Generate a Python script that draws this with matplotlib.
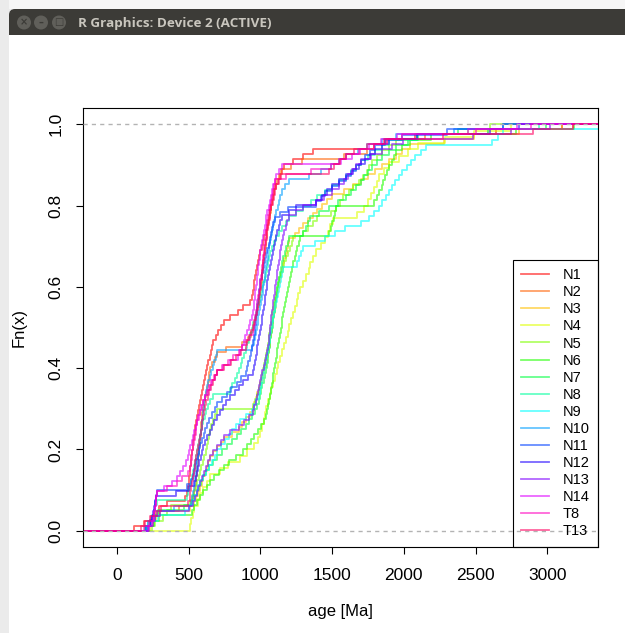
import numpy as np
import matplotlib
matplotlib.use("Agg")
import matplotlib.pyplot as plt
from matplotlib.colors import hsv_to_rgb
from matplotlib.patches import FancyBboxPatch, Rectangle, Circle

plt.rcParams['font.family'] = ['Liberation Sans', 'DejaVu Sans']

# detrital zircon ages [Ma] per sample
N1 = [120, 185, 240, 262, 296, 350, 471, 488, 494, 499, 503, 506, 509,
      515, 519, 524, 528, 533, 538, 542, 547, 553, 558,
      566, 572, 579, 586, 592, 598, 606, 613,
      622, 630, 638, 646, 655, 662, 669,
      688, 705, 726, 748, 790, 845, 880, 926,
      938, 945, 952, 958, 964, 970, 977, 984, 991, 998,
      1008, 1017, 1027, 1038, 1048,
      1055, 1062, 1069, 1076, 1083, 1090, 1098,
      1110, 1124, 1138, 1152, 1166, 1230, 1300, 1365,
      1795, 1870, 2080, 2640, 3100]
N2 = [205, 228, 262, 290, 430,
      515, 528, 536, 543, 549, 553, 557, 560,
      564, 567, 571, 574, 577, 580, 583, 586, 589, 592, 595, 599,
      606, 612, 619, 626, 633, 639, 645, 650,
      664, 681, 698, 760, 870, 915, 932, 948,
      958, 964, 970, 976, 982, 988, 994, 999,
      1004, 1008, 1012, 1016, 1020, 1024, 1028, 1032, 1036, 1040, 1045, 1049,
      1055, 1060, 1066, 1071, 1077, 1083, 1088, 1094, 1099,
      1112, 1128, 1146, 1210, 1290, 1580,
      1740, 1795, 1880, 2150, 2590, 3180]
N3 = [232, 249, 270, 298, 510,
      535, 551, 566, 579,
      590, 602, 614, 626, 638, 649,
      672, 698, 724, 749, 800, 849,
      875, 900, 925, 949,
      958, 968, 978, 988, 998, 1008, 1018, 1028, 1039, 1049,
      1054, 1059, 1064, 1069, 1074, 1079, 1084, 1089, 1094, 1099,
      1106, 1112, 1118, 1124, 1131, 1137, 1143, 1149,
      1158, 1166, 1175, 1183, 1191, 1199,
      1240, 1270, 1299, 1335, 1370, 1398, 1430, 1465, 1498,
      1580, 1648, 1700, 1750, 1798, 1850, 1900, 1948,
      1990, 2045, 2280, 2490, 2800, 3100]
N4 = [511, 515, 528, 539, 562, 579, 598, 625, 648,
      718, 776, 858, 910, 958, 980, 999,
      1012, 1022, 1031, 1039, 1052, 1064, 1077, 1089,
      1102, 1114, 1126, 1138, 1149, 1162, 1176, 1189,
      1202, 1215, 1228, 1239, 1252, 1264, 1274,
      1300, 1320, 1336, 1349, 1370, 1389, 1420, 1449,
      1470, 1488, 1504, 1675, 1720, 1748,
      1770, 1790, 1810, 1829, 1865, 1898, 1968,
      2030, 2098, 2290, 2490, 2745]
N5 = [245, 268, 318, 352, 378, 512, 526, 539,
      549, 559, 569, 579, 588, 598, 609, 619,
      627, 635, 643, 651, 659, 672, 686, 699, 945,
      962, 975, 987, 999, 1006, 1013, 1020, 1027, 1034, 1040,
      1046, 1051, 1057, 1063, 1068, 1074, 1079, 1084, 1090,
      1097, 1104, 1111, 1118, 1124, 1130,
      1142, 1155, 1167, 1179, 1192, 1204, 1217, 1229,
      1298, 1335, 1370, 1398, 1495, 1530, 1555, 1578,
      1615, 1648, 1685, 1718, 1740, 1760, 1779,
      1815, 1848, 1900, 1948, 2095, 2450, 2600]
N6 = [198, 255, 296, 522, 538, 558, 579, 598,
      625, 652, 679, 712, 745, 778, 830, 878,
      905, 932, 958, 980, 1005, 1028,
      1037, 1044, 1051, 1058, 1065, 1072, 1079,
      1085, 1090, 1096, 1101, 1107, 1113, 1118, 1124, 1129,
      1136, 1142, 1148, 1154, 1161, 1167, 1173, 1179,
      1186, 1193, 1200, 1207, 1214, 1221, 1228,
      1238, 1248, 1258, 1268, 1278, 1475,
      1490, 1500, 1510, 1520, 1529, 1795,
      1815, 1830, 1845, 1858, 1872, 1886, 1899,
      1915, 1932, 1948, 1990, 2045, 2190, 2780, 3190]
N7 = [210, 228, 262, 288, 470, 520, 540, 559,
      574, 588, 603, 618, 645, 672, 699, 735, 768, 799,
      835, 868, 899, 920, 940, 960, 979,
      988, 996, 1005, 1014, 1022, 1031, 1039,
      1045, 1050, 1055, 1060, 1065, 1070, 1075, 1079,
      1085, 1090, 1095, 1100, 1105, 1110, 1115, 1119,
      1126, 1132, 1139, 1146, 1153, 1159,
      1170, 1180, 1190, 1199, 1295, 1318, 1334, 1349,
      1410, 1478, 1540, 1598, 1635, 1668, 1699,
      1725, 1752, 1779, 1815, 1848, 1900, 1948,
      2030, 2098, 2380, 2990]
N8 = [200, 219, 245, 258, 268, 279, 485, 498, 509, 519,
      526, 532, 538, 544, 550, 557, 563, 569,
      578, 586, 595, 603, 611, 619, 635, 652, 669, 788,
      805, 820, 835, 849, 862, 874, 886, 897, 908, 919,
      930, 940, 950, 960, 970, 979,
      988, 996, 1004, 1013, 1021, 1029,
      1037, 1045, 1053, 1062, 1070, 1079,
      1095, 1112, 1129, 1150, 1175, 1199,
      1250, 1299, 1350, 1398, 1450, 1498, 1550, 1598,
      1635, 1668, 1699, 1750, 1798, 1850, 1898,
      2095, 2590, 2945]
N9 = [208, 229, 286, 475, 505, 528, 542, 555, 567, 579,
      598, 619, 639, 660, 680, 699, 725, 752, 779,
      805, 832, 859, 900, 939, 955, 972, 989,
      997, 1004, 1011, 1018, 1025, 1032, 1039,
      1046, 1052, 1058, 1064, 1070, 1076, 1083, 1089,
      1096, 1102, 1108, 1115, 1122, 1129,
      1136, 1143, 1150, 1158, 1255, 1270, 1285, 1299,
      1378, 1448, 1520, 1588, 1698, 1760, 1795, 1828,
      1850, 1875, 1898, 1918, 1940, 1965, 1988,
      2020, 2050, 2078, 2120, 2158, 2615, 2660, 2695, 3420]
N10 = [196, 218, 245, 279, 395, 518,
       526, 531, 536, 541, 546, 551, 556, 561, 566, 570,
       574, 578, 582, 586, 590, 594, 598, 602, 606, 610, 615, 619,
       628, 638, 648, 658, 668, 679, 689, 699, 940,
       956, 962, 968, 974, 980, 986, 992, 999,
       1005, 1010, 1015, 1020, 1025, 1030, 1035, 1040, 1045, 1050,
       1056, 1062, 1068, 1074, 1080, 1086, 1093, 1099,
       1110, 1120, 1130, 1140, 1149, 1170, 1198, 1340,
       1420, 1495, 1545, 1598, 1680, 1745, 1850, 1945, 2350, 2690]
N11 = [205, 229, 250, 256, 262, 267, 273, 279, 490, 518,
       528, 537, 546, 554, 562, 569,
       580, 592, 605, 617, 628, 639, 660, 680, 699,
       735, 768, 798, 835, 868, 899,
       908, 916, 924, 932, 939, 946, 953, 959,
       963, 967, 971, 975, 979, 983, 987, 991, 995, 999,
       1008, 1016, 1024, 1033, 1041, 1049,
       1057, 1065, 1073, 1082, 1090, 1099,
       1140, 1195, 1385, 1420, 1448, 1500, 1550, 1598,
       1635, 1668, 1699, 1730, 1765, 1798, 1870, 1990, 2300, 2690]
N12 = [215, 238, 246, 252, 258, 263, 269, 410, 505, 537,
       548, 556, 565, 574, 583, 591, 599,
       614, 630, 646, 662, 679, 700, 720, 740, 759,
       790, 820, 849, 880, 915, 948,
       955, 961, 967, 973, 979, 985, 992, 999,
       1004, 1009, 1014, 1019, 1024, 1029, 1034, 1039, 1044, 1049,
       1056, 1062, 1068, 1074, 1081, 1087, 1093, 1099,
       1109, 1119, 1129, 1139, 1149, 1200, 1248, 1390,
       1430, 1465, 1498, 1550, 1600, 1648,
       1690, 1730, 1765, 1798, 1850, 1898, 2090, 2600, 2800]
N13 = [226, 249, 268, 297, 505, 532, 544, 556, 568, 579,
       592, 606, 620, 635, 649, 672, 698, 722, 748,
       790, 848, 885, 918, 949,
       958, 966, 974, 982, 990, 998, 1006, 1014, 1022, 1030, 1039, 1048,
       1053, 1057, 1061, 1065, 1069, 1073, 1077, 1081, 1085, 1090, 1095, 1099,
       1104, 1109, 1114, 1119, 1124, 1129, 1134, 1139, 1144, 1149,
       1158, 1168, 1178, 1188, 1198, 1250, 1298, 1390,
       1440, 1500, 1548, 1580, 1610, 1640, 1670, 1699,
       1770, 1848, 1920, 1995, 2480, 2750, 3020]
N14 = [215, 246, 256, 261, 266, 270, 274, 279, 330, 385,
       415, 440, 458, 478, 492, 503, 512, 521, 530, 538,
       548, 557, 566, 576, 587, 598, 615, 632, 648, 664, 681, 698,
       740, 790, 845, 860, 872, 884, 896, 907, 918, 928, 939, 948,
       953, 957, 961, 965, 969, 973, 977, 981, 985, 989, 994, 999,
       1006, 1012, 1018, 1024, 1030, 1036, 1042, 1049,
       1057, 1065, 1073, 1082, 1090, 1099,
       1112, 1130, 1148, 1560, 1640, 1695, 1760, 1840, 1950, 2450, 2790]
T8 = [190, 226, 248, 258, 264, 270, 275, 280, 350, 418, 452, 497,
      508, 514, 520, 526, 532, 538, 543, 549, 554, 559,
      570, 581, 592, 603, 615, 627, 639, 658, 679, 698,
      735, 772, 810, 848, 875, 902, 926, 948,
      954, 959, 964, 969, 974, 979, 984, 989, 994, 999,
      1004, 1008, 1012, 1016, 1020, 1024, 1028, 1032, 1036, 1040, 1044, 1047, 1050,
      1057, 1064, 1071, 1078, 1085, 1092, 1099,
      1180, 1350, 1490, 1545, 1595, 1690, 1790, 1880, 1990, 2500, 2890]
T13 = [170, 198, 232, 276, 310, 495,
       506, 512, 518, 523, 529, 535, 541, 547, 553, 559,
       566, 572, 578, 584, 590, 596, 602, 608, 614, 619,
       632, 644, 657, 670, 684, 698, 745, 795, 830, 865, 898,
       910, 922, 934, 946, 957, 968, 979,
       985, 989, 993, 997, 1001, 1005, 1009, 1013, 1017, 1021, 1025, 1029,
       1034, 1039, 1044, 1049, 1054, 1059, 1064, 1069,
       1077, 1085, 1093, 1101, 1109, 1128, 1147,
       1480, 1515, 1555, 1595, 1650, 1745, 1860, 2270, 2900, 3180]

samples = ["N1", "N2", "N3", "N4", "N5", "N6", "N7", "N8", "N9", "N10",
           "N11", "N12", "N13", "N14", "T8", "T13"]
ages = [N1, N2, N3, N4, N5, N6, N7, N8, N9, N10, N11, N12, N13, N14, T8, T13]
xticks = [0, 500, 1000, 1500, 2000, 2500, 3000]
yticks = [0.0, 0.2, 0.4, 0.6, 0.8, 1.0]

W, H = 625, 633
fig = plt.figure(figsize=(W / 100, H / 100), dpi=100)
fig.patch.set_facecolor('#ebebeb')

# window frame and title bar
bg = fig.add_axes([0, 0, 1, 1], zorder=-1)
bg.set_xlim(0, W)
bg.set_ylim(H, 0)
bg.axis('off')
bg.add_patch(Rectangle((9, 0), 640, 9, fc='#f6f6f6', ec='none'))
bg.add_patch(FancyBboxPatch((9, 9), 640, 40, boxstyle='round,pad=0,rounding_size=6',
                            fc='#3c3b37', ec='none'))
bg.add_patch(Rectangle((9, 35), 640, 640, fc='white', ec='none'))
for cx, glyph in zip((24, 41, 59), ('×', '–', '□')):
    bg.add_patch(Circle((cx, 22.5), 7, fc='#605f5a', ec='none'))
    bg.text(cx, 22.5, glyph, color='#3c3b37', fontsize=7, ha='center', va='center',
            fontweight='bold', family=['DejaVu Sans'])
bg.text(78, 23, 'R Graphics: Device 2 (ACTIVE)', color='#c9c6be', fontsize=9.7,
        fontweight='bold', va='center', family=['Open Sans', 'DejaVu Sans'])

# ECDF panel
ax = fig.add_axes([83 / W, 1 - 547 / H, (598 - 83) / W, (547 - 108) / H])
colors = [hsv_to_rgb((i / 16, 1, 1)) for i in range(16)]
for name, a, c in zip(samples, ages, colors):
    x = np.sort(np.asarray(a, dtype=float))
    y = np.arange(1, len(x) + 1) / len(x)
    ax.step(np.r_[-1e4, x, 1e4], np.r_[0, y, 1], where='post',
            color=c, alpha=0.6, lw=1.3, label=name)

for h in (0, 1):
    ax.axhline(h, color='#b3b3b3', lw=1, ls=(0, (3, 3)), zorder=3)

ax.set_xlim(-237, 3354)
ax.set_ylim(-0.04, 1.04)
ax.set_xticks(xticks)
ax.set_yticks(yticks)
ax.set_yticklabels([f'{v:.1f}' for v in yticks], rotation=90, va='center')
ax.tick_params(direction='out', length=5, width=0.8, labelsize=12.5, pad=9)
ax.tick_params(axis='x', pad=10)
for s in ax.spines.values():
    s.set_linewidth(0.8)
ax.set_xlabel('age [Ma]', fontsize=12, labelpad=15)
ax.set_ylabel('Fn(x)', fontsize=12, labelpad=16)

leg = ax.legend(loc='lower right', bbox_to_anchor=(1, 0), borderaxespad=0,
                fontsize=10.5, handlelength=1.9, handletextpad=0.9,
                labelspacing=0.21, borderpad=0.6, fancybox=False, framealpha=1)
leg.get_frame().set_facecolor('none')
leg.get_frame().set_edgecolor('black')
leg.get_frame().set_linewidth(0.8)

fig.savefig('out.png', dpi=100)
